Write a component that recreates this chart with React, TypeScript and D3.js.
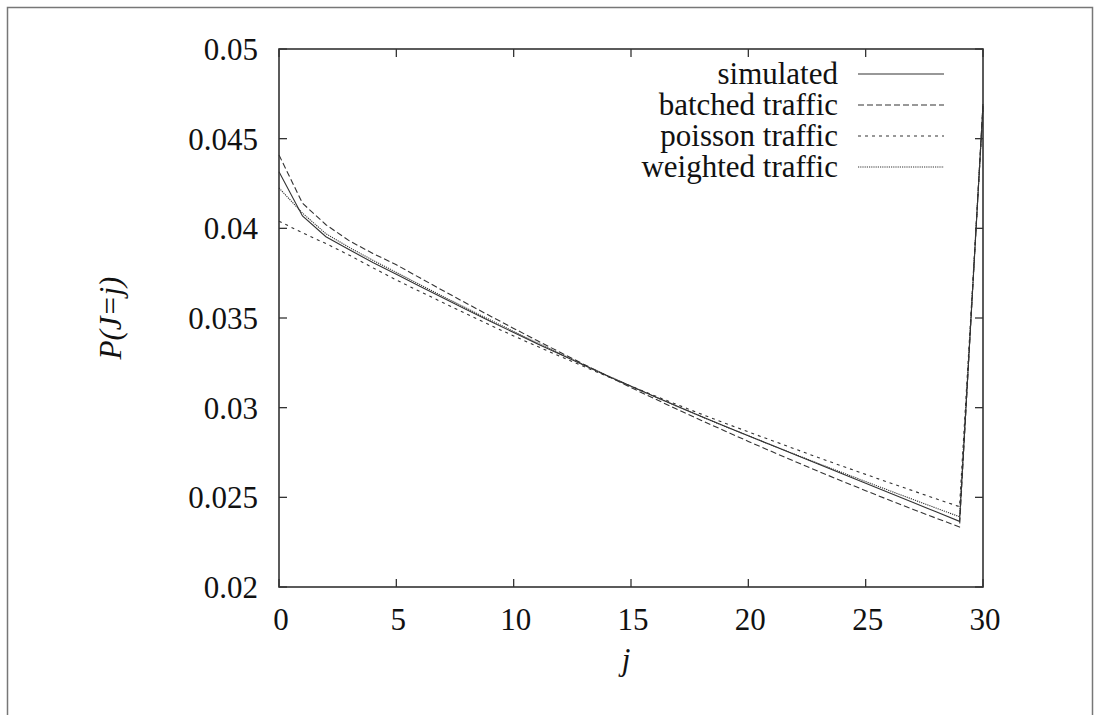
import React from "react";
import * as d3 from "d3";

// Queue length distribution P(J=j) for j = 0..30
const jValues = d3.range(0, 31);

const simulated = [
  0.04316, 0.04069, 0.03953, 0.0388, 0.0381, 0.03744, 0.03677, 0.03611, 0.03546, 0.03482,
  0.03419, 0.03357, 0.03296, 0.03236, 0.03177, 0.03119, 0.03062, 0.03006, 0.02951, 0.02897,
  0.02844, 0.0279, 0.02737, 0.02684, 0.02631, 0.02578, 0.02525, 0.02472, 0.02419, 0.02366,
  0.0468,
];

const batched = [
  0.04409, 0.0414, 0.0402, 0.0393, 0.0386, 0.03797, 0.03724, 0.03652, 0.03581, 0.03511,
  0.03442, 0.03374, 0.03307, 0.03241, 0.03176, 0.03112, 0.0305, 0.02989, 0.02929, 0.0287,
  0.02812, 0.02755, 0.02699, 0.02644, 0.0259, 0.02537, 0.02485, 0.02434, 0.02384, 0.02335,
  0.047,
];

const poisson = [
  0.0404, 0.03975, 0.03915, 0.0385, 0.0378, 0.03712, 0.03648, 0.03585, 0.03522, 0.0346,
  0.034, 0.03342, 0.03285, 0.03229, 0.03174, 0.0312, 0.03067, 0.03015, 0.02964, 0.02914,
  0.02865, 0.02817, 0.02769, 0.02721, 0.02674, 0.02628, 0.02582, 0.02537, 0.02492, 0.02448,
  0.0466,
];

const weighted = [
  0.04225, 0.04085, 0.0397, 0.03893, 0.03822, 0.03754, 0.03687, 0.0362, 0.03554, 0.03489,
  0.03425, 0.03362, 0.033, 0.03239, 0.03179, 0.0312, 0.03062, 0.03005, 0.0295, 0.02896,
  0.02843, 0.02791, 0.02739, 0.02688, 0.02638, 0.02588, 0.02538, 0.02489, 0.0244, 0.02392,
  0.0468,
];

const seriesNames = ["simulated", "batched traffic", "poisson traffic", "weighted traffic"];
const seriesValues = [simulated, batched, poisson, weighted];
const seriesDash = ["none", "6,3", "3,4", "1.2,1"];

const xTicks = [0, 5, 10, 15, 20, 25, 30];
const yTicks = [0.02, 0.025, 0.03, 0.035, 0.04, 0.045, 0.05];
const yTickLabels = ["0.02", "0.025", "0.03", "0.035", "0.04", "0.045", "0.05"];

const W = 1098;
const H = 715;
const plot = { left: 279, right: 983, top: 49, bottom: 587 };

const FONT = "'Liberation Serif', 'Times New Roman', Times, 'DejaVu Serif', serif";
const INK = "#333";
const textStyle: React.CSSProperties = { fontFamily: FONT, fontSize: 31 };

export default function App() {
  const x = d3.scaleLinear().domain([0, 30]).range([plot.left, plot.right]);
  const y = d3.scaleLinear().domain([0.02, 0.05]).range([plot.bottom, plot.top]);

  const line = d3
    .line<number>()
    .x((_, i) => x(jValues[i]))
    .y((d) => y(d));

  const tickLen = 8;
  const legendX0 = 858;
  const legendX1 = 944;
  const legendTextX = 838;
  const legendY0 = 74;
  const legendStep = 31;

  return (
    <div style={{ position: "fixed", left: 0, top: 0, width: W, height: H, background: "#fff" }}>
      <svg width={W} height={H} style={{ display: "block" }}>
        <rect x={0} y={0} width={W} height={H} fill="#fff" />
        {/* outer frame */}
        <rect x={7.5} y={7.5} width={1085} height={730} fill="none" stroke="#777" strokeWidth={1.5} />

        {/* x ticks (bottom and mirrored top) */}
        {xTicks.map((t) => (
          <g key={"xt" + t}>
            <line x1={x(t)} x2={x(t)} y1={plot.bottom} y2={plot.bottom - tickLen} stroke={INK} strokeWidth={1.3} />
            <line x1={x(t)} x2={x(t)} y1={plot.top} y2={plot.top + tickLen} stroke={INK} strokeWidth={1.3} />
            <text x={x(t) + 2} y={plot.bottom + 43} textAnchor="middle" style={textStyle} fill="#111">
              {t}
            </text>
          </g>
        ))}

        {/* y ticks (left and mirrored right) */}
        {yTicks.map((t, i) => (
          <g key={"yt" + t}>
            <line x1={plot.left} x2={plot.left + tickLen} y1={y(t)} y2={y(t)} stroke={INK} strokeWidth={1.3} />
            <line x1={plot.right} x2={plot.right - tickLen} y1={y(t)} y2={y(t)} stroke={INK} strokeWidth={1.3} />
            <text x={plot.left - 21} y={y(t) + 11} textAnchor="end" style={textStyle} fill="#111">
              {yTickLabels[i]}
            </text>
          </g>
        ))}

        {/* series */}
        {seriesValues.map((vals, i) => (
          <path
            key={"s" + i}
            d={line(vals) || ""}
            fill="none"
            stroke={INK}
            strokeWidth={1.1}
            strokeDasharray={seriesDash[i]}
          />
        ))}

        {/* plot frame */}
        <rect
          x={plot.left}
          y={plot.top}
          width={plot.right - plot.left}
          height={plot.bottom - plot.top}
          fill="none"
          stroke={INK}
          strokeWidth={1.6}
        />

        {/* legend */}
        {seriesNames.map((name, i) => {
          const ly = legendY0 + i * legendStep;
          return (
            <g key={"lg" + i}>
              <text x={legendTextX} y={ly + 10} textAnchor="end" style={textStyle} fill="#111">
                {name}
              </text>
              <line
                x1={legendX0}
                x2={legendX1}
                y1={ly}
                y2={ly}
                stroke={INK}
                strokeWidth={1.1}
                strokeDasharray={seriesDash[i]}
              />
            </g>
          );
        })}

        {/* axis titles */}
        <text x={626} y={670} textAnchor="middle" style={{ ...textStyle, fontStyle: "italic" }} fill="#111">
          j
        </text>
        <text
          transform={`translate(121, 318) rotate(-90)`}
          textAnchor="middle"
          style={{ ...textStyle, fontStyle: "italic" }}
          fill="#111"
        >
          P(J=j)
        </text>
      </svg>
    </div>
  );
}
